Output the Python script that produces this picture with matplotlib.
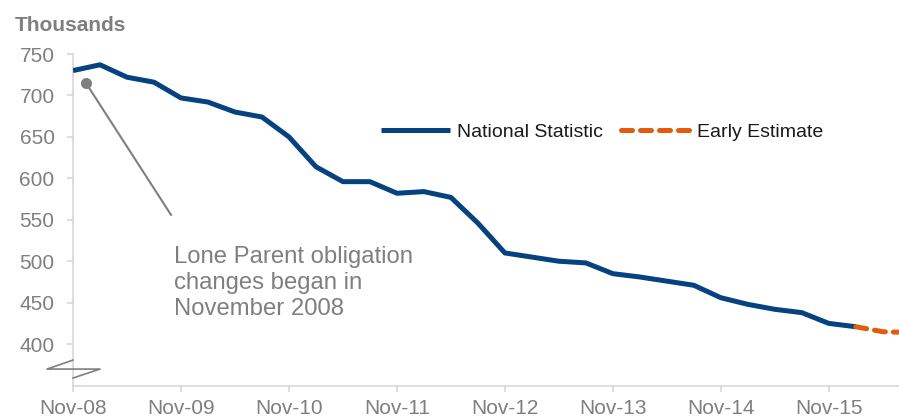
import matplotlib.pyplot as plt
from matplotlib.lines import Line2D

plt.rcParams['font.family'] = ['Liberation Sans', 'DejaVu Sans']

# quarterly series, Nov-08 onwards
quarters = []
for yr in range(8, 17):
    for mon in ['Feb', 'May', 'Aug', 'Nov']:
        quarters.append('%s-%02d' % (mon, yr))
quarters = quarters[3:]  # start at Nov-08

national = [730, 737, 722, 716, 697, 692, 680, 674, 650, 614,
            596, 596, 582, 584, 577, 546, 510, 505, 500, 498,
            485, 481, 476, 471, 456, 448, 442, 438, 425, 421]
estimate = [421, 415, 414]
est_start = len(national) - 1

yticks = [400, 450, 500, 550, 600, 650, 700, 750]
xtick_labels = ['Nov-08', 'Nov-09', 'Nov-10', 'Nov-11', 'Nov-12', 'Nov-13', 'Nov-14', 'Nov-15']

navy = '#05427F'
orange = '#E35B0C'
grey = '#7F7F7F'
spine_c = '#D4D4D4'

fig = plt.figure(figsize=(8.99, 4.19), dpi=100)
ax = fig.add_axes([73 / 899, 33 / 419, 826 / 899, 332 / 419])

xs = list(range(len(national)))
ax.plot(xs, national, color=navy, lw=3.6, solid_joinstyle='round',
        solid_capstyle='butt', label='National Statistic', zorder=3)
xe = list(range(est_start, est_start + len(estimate)))
ax.plot(xe, estimate, color=orange, lw=3.6, dashes=(2.2, 1.6),
        dash_capstyle='round', label='Early Estimate', zorder=3)

ax.set_xlim(0, 30.6)
ax.set_ylim(349.5, 750)
ax.set_yticks(yticks)
xt = [quarters.index(l) for l in xtick_labels]
ax.set_xticks(xt)
ax.set_xticklabels(xtick_labels)

for s in ['top', 'right']:
    ax.spines[s].set_visible(False)
for s in ['left', 'bottom']:
    ax.spines[s].set_color(spine_c)
    ax.spines[s].set_linewidth(1.1)
ax.tick_params(axis='both', colors=spine_c, labelcolor=grey, labelsize=15,
               length=4.3, width=1.1, direction='out')
ax.tick_params(axis='x', pad=5)
ax.tick_params(axis='y', pad=9)

# axis break symbol
brk = Line2D([0, -0.0315, 0.0327, 0], [0.078, 0.051, 0.051, 0.024],
             transform=ax.transAxes, color=grey, lw=1.2, clip_on=False, zorder=4)
ax.add_line(brk)

# annotation
ax.plot([0.48, 3.63], [715, 556], color=grey, lw=1.5, zorder=2)
ax.plot([0.48], [715], 'o', color=grey, markersize=7, zorder=2)
ax.text(3.74, 435, 'Lone Parent obligation\nchanges began in\nNovember 2008',
        fontsize=17.2, color=grey, va='baseline', ha='left', linespacing=1.24)

leg = ax.legend(loc='center left', bbox_to_anchor=(0.373, 0.765), ncol=2,
                frameon=False, fontsize=14, handlelength=3.55,
                handletextpad=0.36, columnspacing=0.9, borderpad=0,
                borderaxespad=0)
for t in leg.get_texts():
    t.set_color('#1A1A1A')

fig.text(15 / 899, 1 - 31 / 419, 'Thousands', fontsize=15, fontweight='bold',
         color=grey, va='baseline', ha='left')

fig.savefig('out.png', dpi=100)
